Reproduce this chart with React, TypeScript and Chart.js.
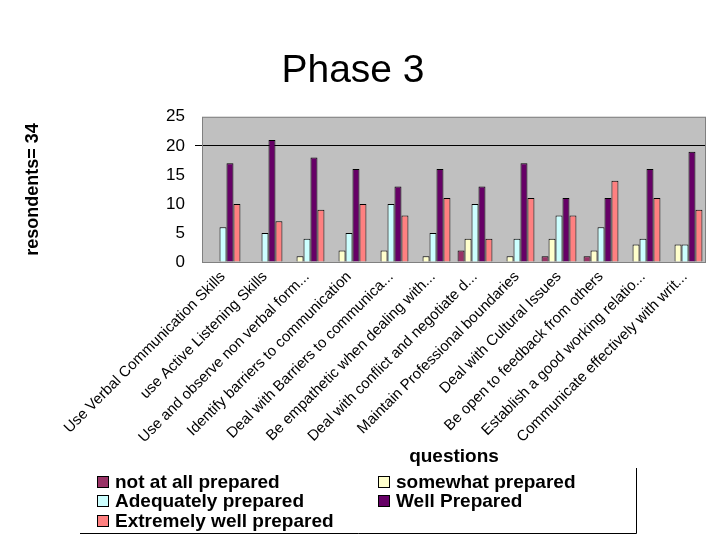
import React, { useEffect, useRef } from "react";
import { Chart, registerables } from "chart.js";

Chart.register(...registerables);

const categories = [
  "Use Verbal Communication Skills",
  "use Active Listening Skills",
  "Use and observe non verbal form...",
  "Identify barriers to communication",
  "Deal with Barriers to communica...",
  "Be empathetic when dealing with...",
  "Deal with conflict and negotiate d...",
  "Maintain Professional boundaries",
  "Deal with Cultural Issues",
  "Be open to feedback from others",
  "Establish a good working relatio...",
  "Communicate effectively with writ...",
];

const notAtAll = [0, 0, 0, 0, 0, 0, 2, 0, 1, 1, 0, 0];
const somewhat = [0, 0, 1, 2, 2, 1, 4, 1, 4, 2, 3, 3];
const adequately = [6, 5, 4, 5, 10, 5, 10, 4, 8, 6, 4, 3];
const wellPrepared = [17, 21, 18, 16, 13, 16, 13, 17, 11, 11, 16, 19];
const extremely = [10, 7, 9, 10, 8, 11, 4, 11, 8, 14, 11, 9];

const seriesNames = [
  "not at all prepared",
  "somewhat prepared",
  "Adequately prepared",
  "Well Prepared",
  "Extremely well prepared",
];
const seriesColors = ["#993366", "#ffffcc", "#ccffff", "#660066", "#ff8080"];
const seriesData = [notAtAll, somewhat, adequately, wellPrepared, extremely];

const yTicks = [0, 5, 10, 15, 20, 25];

const FONT = "Arial, 'Liberation Sans', sans-serif";

const plotBg = {
  id: "plotBg",
  beforeDraw(chart: any) {
    const { ctx, chartArea: a } = chart;
    ctx.save();
    ctx.fillStyle = "#c0c0c0";
    ctx.fillRect(a.left, a.top, a.right - a.left, a.bottom - a.top);
    ctx.restore();
  },
  afterDatasetsDraw(chart: any) {
    const { ctx, chartArea: a } = chart;
    ctx.save();
    ctx.strokeStyle = "#808080";
    ctx.lineWidth = 1;
    ctx.strokeRect(a.left + 0.5, a.top + 0.5, a.right - a.left - 1, a.bottom - a.top);
    ctx.restore();
  },
};

const customLegend = {
  id: "customLegend",
  afterDraw(chart: any) {
    const { ctx } = chart;
    ctx.save();
    ctx.strokeStyle = "#000000";
    ctx.lineWidth = 1;
    ctx.beginPath();
    ctx.moveTo(636.5, 468);
    ctx.lineTo(636.5, 533.5);
    ctx.lineTo(80, 533.5);
    ctx.stroke();

    const cols = [97, 378];
    const rows = [482, 501, 521];
    ctx.font = "bold 19px " + FONT;
    ctx.textBaseline = "middle";
    ctx.textAlign = "left";
    seriesNames.forEach((name, i) => {
      const col = i % 2;
      const row = Math.floor(i / 2);
      const x = cols[col];
      const y = rows[row];
      ctx.fillStyle = seriesColors[i];
      ctx.fillRect(x, y - 6, 12, 12);
      ctx.strokeStyle = "#000000";
      ctx.strokeRect(x + 0.5, y - 5.5, 11, 11);
      ctx.fillStyle = "#000000";
      ctx.fillText(name, x + 18, y + 1);
    });
    ctx.restore();
  },
};

export default function App() {
  const ref = useRef<HTMLCanvasElement | null>(null);

  useEffect(() => {
    if (!ref.current) return;
    const chart = new Chart(ref.current, {
      type: "bar",
      data: {
        labels: categories,
        datasets: seriesNames.map((name, i) => ({
          label: name,
          data: seriesData[i],
          backgroundColor: seriesColors[i],
          borderColor: "#000000",
          borderWidth: 1,
          categoryPercentage: 0.83,
          barPercentage: 1.0,
        })),
      },
      options: {
        animation: false,
        responsive: false,
        maintainAspectRatio: false,
        layout: { padding: { left: 0, right: 14, top: 0, bottom: 70 } },
        plugins: {
          legend: { display: false },
          tooltip: { enabled: false },
          title: {
            display: true,
            text: "Phase 3",
            color: "#000000",
            font: { family: FONT, size: 39, weight: "normal" },
            padding: { top: 48, bottom: 22 },
          },
        },
        scales: {
          x: {
            afterFit(scale: any) {
              scale.height = 208;
            },
            grid: { display: false, drawTicks: false },
            border: { display: false },
            ticks: {
              autoSkip: false,
              maxRotation: 45,
              minRotation: 45,
              padding: 6,
              color: "#000000",
              font: { family: FONT, size: 15 },
            },
            title: {
              display: true,
              text: "questions",
              color: "#000000",
              font: { family: FONT, size: 19, weight: "bold" },
              padding: { top: 0, bottom: 2 },
            },
          },
          y: {
            min: 0,
            max: 25,
            afterFit(scale: any) {
              scale.width = 202;
            },
            afterBuildTicks(scale: any) {
              scale.ticks = yTicks.map((v) => ({ value: v }));
            },
            border: { display: false },
            grid: {
              color: (c: any) => (c.tick && c.tick.value === 20 ? "#000000" : "rgba(0,0,0,0)"),
              tickLength: 7,
              drawTicks: true,
            },
            ticks: {
              padding: 10,
              color: "#000000",
              font: { family: FONT, size: 17 },
            },
            title: {
              display: true,
              text: "resondents= 34",
              color: "#000000",
              font: { family: FONT, size: 18, weight: "bold" },
              padding: { top: 22, bottom: 0 },
            },
          },
        },
      },
      plugins: [plotBg, customLegend],
    });
    return () => chart.destroy();
  }, []);

  return (
    <div style={{ position: "fixed", left: 0, top: 0, width: 720, height: 540, background: "#ffffff" }}>
      <canvas ref={ref} width={720} height={540} style={{ width: 720, height: 540, display: "block" }} />
    </div>
  );
}
